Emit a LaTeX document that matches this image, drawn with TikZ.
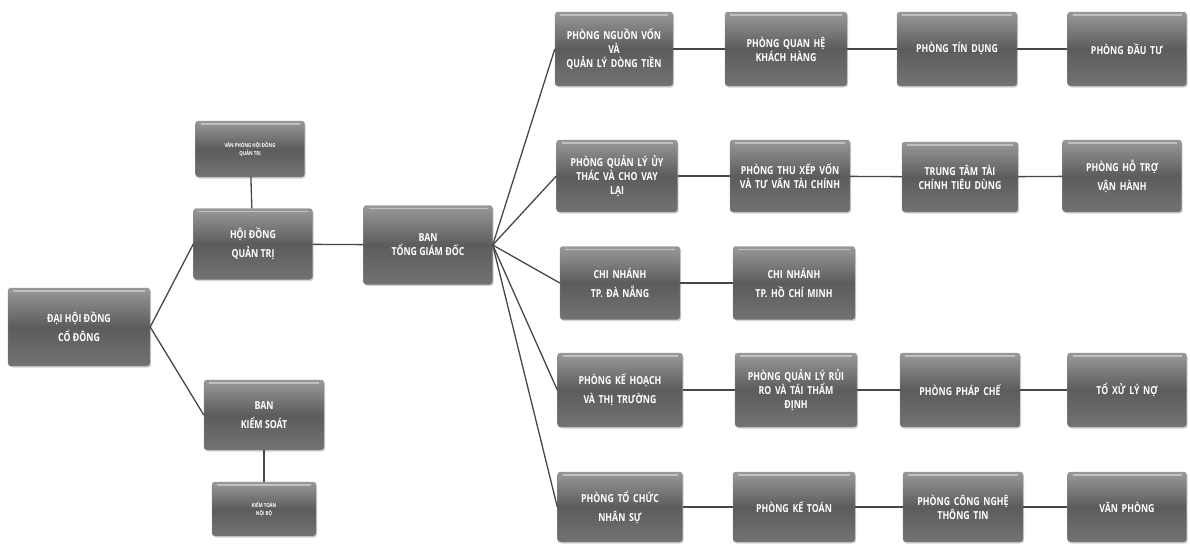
\documentclass[tikz,border=0pt]{standalone}
\usepackage{fontspec}
\newfontfamily\boxfont{Open Sans}[FakeStretch=0.8]
\usetikzlibrary{shadows}
\tikzset{
  box/.style={rounded corners=3pt, draw=black!45, top color=black!40, bottom color=black!55, middle color=black!64,
    text=white, font=\boxfont\bfseries\fontsize{11}{19}\selectfont, align=center, inner sep=1pt,
    drop shadow={opacity=0.35, shadow xshift=1.2pt, shadow yshift=-1.5pt},
    path picture={\draw[white!80!black, line width=1.5pt, opacity=0.8]
      ([xshift=5pt,yshift=-3pt]path picture bounding box.north west) -- ([xshift=-5pt,yshift=-3pt]path picture bounding box.north east);}},
  three/.style={font=\boxfont\bfseries\fontsize{11}{14}\selectfont},
  tiny/.style={font=\boxfont\bfseries\fontsize{5.5}{8}\selectfont},
  link/.style={draw=black!72, line width=1.3pt}
}
\begin{document}
\begin{tikzpicture}[x=1pt,y=-1pt]
\useasboundingbox (0,0) rectangle (1190,544);
% left part
\node[box, minimum width=142pt, minimum height=78pt] (root) at (79,327) {ĐẠI HỘI ĐỒNG\\CỔ ĐÔNG};
\node[box, tiny, minimum width=109pt, minimum height=56pt] (vphd) at (250,149) {VĂN PHÒNG HỘI ĐỒNG\\QUẢN TRỊ};
\node[box, minimum width=119pt, minimum height=71pt] (hdqt) at (253,244) {HỘI ĐỒNG\\QUẢN TRỊ};
\node[box, minimum width=120pt, minimum height=70pt] (bks) at (264,415) {BAN\\KIỂM SOÁT};
\node[box, tiny, minimum width=104pt, minimum height=54pt] (ktnb) at (264,509) {KIỂM TOÁN\\NỘI BỘ};
\node[box, three, minimum width=129pt, minimum height=79pt] (tgd) at (428,245) {BAN\\TỔNG GIÁM ĐỐC};
% row 1
\node[box, three, minimum width=117pt, minimum height=74pt, text width=116pt] (a1) at (614,49) {PHÒNG NGUỒN VỐN\\VÀ\\QUẢN LÝ DÒNG TIỀN};
\node[box, three, minimum width=122pt, minimum height=74pt, text width=115pt] (b1) at (786,49) {PHÒNG QUAN HỆ\\KHÁCH HÀNG};
\node[box, minimum width=120pt, minimum height=74pt, text width=115pt] (c1) at (957,49) {PHÒNG TÍN DỤNG};
\node[box, minimum width=119pt, minimum height=74pt, text width=115pt] (d1) at (1127,49) {PHÒNG ĐẦU TƯ};
% row 2
\node[box, three, minimum width=121pt, minimum height=72pt, text width=118pt] (a2) at (617,176) {PHÒNG QUẢN LÝ ỦY\\THÁC VÀ CHO VAY\\LẠI};
\node[box, three, minimum width=120pt, minimum height=72pt, text width=118pt] (b2) at (790,176) {PHÒNG THU XẾP VỐN\\VÀ TƯ VẤN TÀI CHÍNH};
\node[box, three, minimum width=116pt, minimum height=70pt, text width=114pt] (c2) at (960,177) {TRUNG TÂM TÀI\\CHÍNH TIÊU DÙNG};
\node[box, minimum width=119pt, minimum height=72pt, text width=115pt] (d2) at (1122,176) {PHÒNG HỖ TRỢ\\VẬN HÀNH};
% row 3
\node[box, minimum width=120pt, minimum height=73pt, text width=115pt] (a3) at (620,283) {CHI NHÁNH\\TP. ĐÀ NẴNG};
\node[box, minimum width=122pt, minimum height=73pt, text width=115pt] (b3) at (794,283) {CHI NHÁNH\\TP. HỒ CHÍ MINH};
% row 4
\node[box, minimum width=125pt, minimum height=74pt, text width=118pt] (a4) at (620,390) {PHÒNG KẾ HOẠCH\\VÀ THỊ TRƯỜNG};
\node[box, three, minimum width=122pt, minimum height=74pt, text width=120pt] (b4) at (796,390) {PHÒNG QUẢN LÝ RỦI\\RO VÀ TÁI THẨM\\ĐỊNH};
\node[box, minimum width=120pt, minimum height=74pt, text width=115pt] (c4) at (960,390) {PHÒNG PHÁP CHẾ};
\node[box, minimum width=119pt, minimum height=74pt, text width=115pt] (d4) at (1127,390) {TỔ XỬ LÝ NỢ};
% row 5
\node[box, minimum width=125pt, minimum height=70pt, text width=118pt] (a5) at (620,507) {PHÒNG TỔ CHỨC\\NHÂN SỰ};
\node[box, minimum width=122pt, minimum height=70pt, text width=118pt] (b5) at (794,507) {PHÒNG KẾ TOÁN};
\node[box, three, minimum width=120pt, minimum height=70pt, text width=118pt] (c5) at (963,507) {PHÒNG CÔNG NGHỆ\\THÔNG TIN};
\node[box, minimum width=119pt, minimum height=70pt, text width=115pt] (d5) at (1127,507) {VĂN PHÒNG};
% connectors
\draw[link] (root.east) -- (hdqt.west);
\draw[link] (root.east) -- (bks.west);
\draw[link] (vphd) -- (hdqt);
\draw[link] (bks) -- (ktnb);
\draw[link] (hdqt) -- (tgd);
\foreach \r in {a1,a2,a3,a4,a5} \draw[link] (tgd.east) -- (\r.west);
\draw[link] (a1) -- (b1); \draw[link] (b1) -- (c1); \draw[link] (c1) -- (d1);
\draw[link] (a2) -- (b2); \draw[link] (b2) -- (c2); \draw[link] (c2) -- (d2);
\draw[link] (a3) -- (b3);
\draw[link] (a4) -- (b4); \draw[link] (b4) -- (c4); \draw[link] (c4) -- (d4);
\draw[link] (a5) -- (b5); \draw[link] (b5) -- (c5); \draw[link] (c5) -- (d5);
\end{tikzpicture}
\end{document}
